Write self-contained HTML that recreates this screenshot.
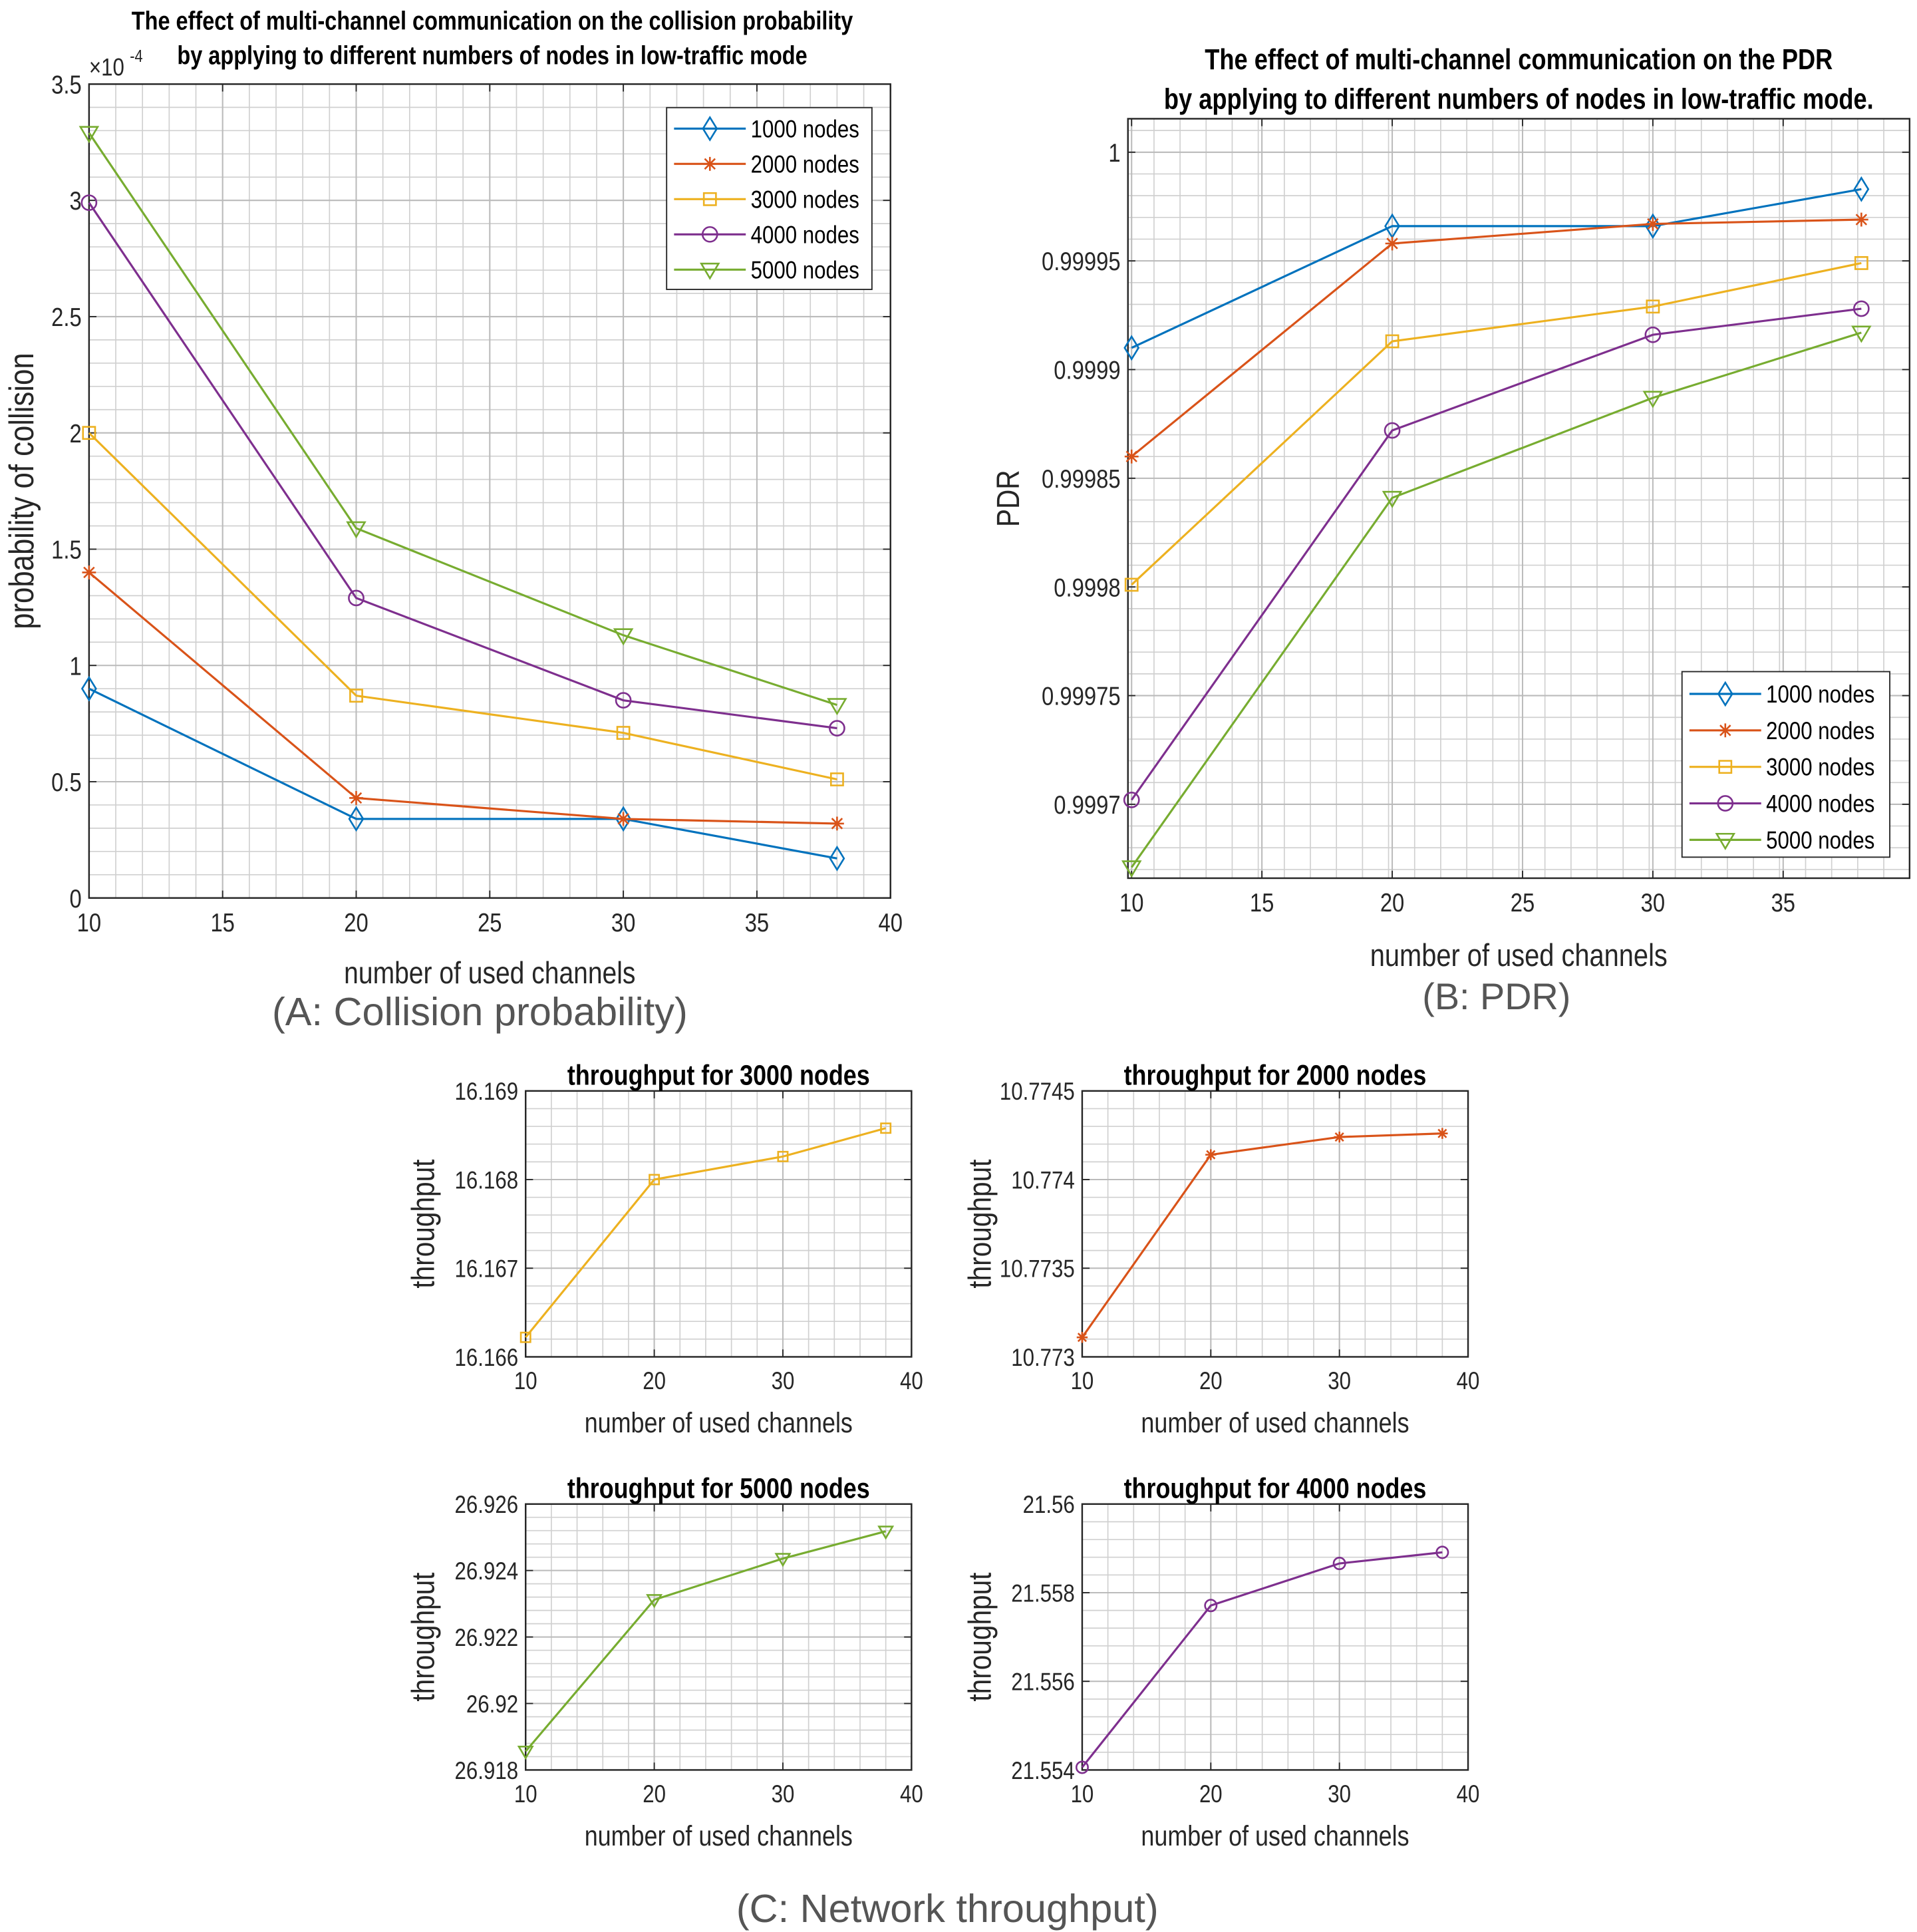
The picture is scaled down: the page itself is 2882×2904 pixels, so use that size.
<!DOCTYPE html>
<html><head><meta charset="utf-8"><style>
html,body{margin:0;padding:0;background:#fff;}
svg{display:block;}
text{font-family:"Liberation Sans",sans-serif;}
</style></head><body>
<svg id="root" width="2882" height="2904" viewBox="0 0 1550 1562" preserveAspectRatio="none" xmlns="http://www.w3.org/2000/svg"></svg>
<script>
// ---- data ----
const channels = [10, 20, 30, 38];
const seriesNames = ["1000 nodes", "2000 nodes", "3000 nodes", "4000 nodes", "5000 nodes"];
const collision1000 = [0.90, 0.34, 0.34, 0.17];
const collision2000 = [1.40, 0.43, 0.34, 0.32];
const collision3000 = [2.00, 0.87, 0.71, 0.51];
const collision4000 = [2.99, 1.29, 0.85, 0.73];
const collision5000 = [3.29, 1.59, 1.13, 0.83];
const pdr1000 = [0.999910, 0.999966, 0.999966, 0.999983];
const pdr2000 = [0.999860, 0.999958, 0.999967, 0.999969];
const pdr3000 = [0.999801, 0.999913, 0.999929, 0.999949];
const pdr4000 = [0.999702, 0.999872, 0.999916, 0.999928];
const pdr5000 = [0.999671, 0.999841, 0.999887, 0.999917];
const thr3000 = [16.16622, 16.16800, 16.16826, 16.16858];
const thr2000 = [10.77311, 10.77414, 10.77424, 10.77426];
const thr5000 = [26.91856, 26.92312, 26.92436, 26.92518];
const thr4000 = [21.55406, 21.55771, 21.55866, 21.55891];
const ticksA_y = ["0","0.5","1","1.5","2","2.5","3","3.5"];
const ticksB_y = ["0.9997","0.99975","0.9998","0.99985","0.9999","0.99995","1"];
const ticks3000 = ["16.166","16.167","16.168","16.169"];
const ticks2000 = ["10.773","10.7735","10.774","10.7745"];
const ticks5000 = ["26.918","26.92","26.922","26.924","26.926"];
const ticks4000 = ["21.554","21.556","21.558","21.56"];

const colors = ["#0072BD","#D95319","#EDB120","#7E2F8E","#77AC30"];
const markers = ["diamond","star","square","circle","tri"];
const NS = "http://www.w3.org/2000/svg";
const root = document.getElementById('root');
const SX = 0.84;
function el(tag, attrs, parent, txt){
  const e = document.createElementNS(NS, tag);
  for (const k in attrs) e.setAttribute(k, attrs[k]);
  if (txt !== undefined) e.textContent = txt;
  (parent||root).appendChild(e);
  return e;
}
function ctext(x, y, txt, attrs, parent, rot){
  const a = Object.assign({x:0, y:0, transform:`translate(${x},${y})${rot?' rotate(-90)':''} scale(${SX},1)`}, attrs);
  return el('text', a, parent, txt);
}
function marker(g, type, x, y, s, c){
  let m;
  if(type==="diamond") m = el('polygon',{points:`${x},${y-s*1.3} ${x+s*0.8},${y} ${x},${y+s*1.3} ${x-s*0.8},${y}`,fill:'none',stroke:c,'stroke-width':1.4},g);
  else if(type==="square") m = el('rect',{x:x-s*0.7,y:y-s*0.7,width:s*1.4,height:s*1.4,fill:'none',stroke:c,'stroke-width':1.4},g);
  else if(type==="circle") m = el('circle',{cx:x,cy:y,r:s*0.85,fill:'none',stroke:c,'stroke-width':1.4},g);
  else if(type==="tri") m = el('polygon',{points:`${x-s},${y-s*0.7} ${x+s},${y-s*0.7} ${x},${y+s}`,fill:'none',stroke:c,'stroke-width':1.4},g);
  else { m = el('path',{d:`M${x-s*0.8},${y}H${x+s*0.8}M${x},${y-s*0.8}V${y+s*0.8}M${x-s*0.6},${y-s*0.6}L${x+s*0.6},${y+s*0.6}M${x-s*0.6},${y+s*0.6}L${x+s*0.6},${y-s*0.6}`,stroke:c,'stroke-width':1.4,fill:'none'},g); }
  
  
}
function chart(o){
  const g = el('g',{},root);
  
  
  const X = v => o.L + (v - o.xmin)/(o.xmax - o.xmin)*(o.R - o.L);
  const Y = v => o.B - (v - o.ymin)/(o.ymax - o.ymin)*(o.B - o.T);
  for (let v = o.xmin; v <= o.xmax + 1e-9; v += o.xminor) { const x=X(v); el('line',{x1:x,x2:x,y1:o.T,y2:o.B,stroke:'#d0d0d0','stroke-width':0.9},g); }
  const nyMin = Math.round((o.ymax-o.ymin)/o.yminor);
  for (let i = 0; i <= nyMin+1; i++) { const v = o.yminorStart + i*o.yminor; if(v>o.ymax+1e-12) break; const y=Y(v); el('line',{x1:o.L,x2:o.R,y1:y,y2:y,stroke:'#d0d0d0','stroke-width':0.9},g); }
  o.xticks.forEach(v=>{const x=X(v); el('line',{x1:x,x2:x,y1:o.T,y2:o.B,stroke:'#bbbbbb','stroke-width':1.1},g);});
  o.yticks.forEach(v=>{const y=Y(v); el('line',{x1:o.L,x2:o.R,y1:y,y2:y,stroke:'#bbbbbb','stroke-width':1.1},g);});
  const bx = el('rect',{x:o.L,y:o.T,width:o.R-o.L,height:o.B-o.T,fill:'none',stroke:'#262626','stroke-width':1.3},g);
   
  o.xticks.forEach(v=>{const x=X(v);
    el('line',{x1:x,x2:x,y1:o.B,y2:o.B-6,stroke:'#262626'},g); el('line',{x1:x,x2:x,y1:o.T,y2:o.T+6,stroke:'#262626'},g);
    const t=ctext(x,o.B+o.tfs+6,String(v),{'text-anchor':'middle','font-size':o.tfs,fill:'#262626'},g);
     });
  o.yticks.forEach((v,i)=>{const y=Y(v);
    el('line',{x1:o.L,x2:o.L+6,y1:y,y2:y,stroke:'#262626'},g); el('line',{x1:o.R,x2:o.R-6,y1:y,y2:y,stroke:'#262626'},g);
    const t=ctext(o.L-6,y+o.tfs*0.36,o.ylabels[i],{'text-anchor':'end','font-size':o.tfs,fill:'#262626'},g);
     });
  o.title.forEach((s,i)=>{const t=ctext((o.L+o.R)/2+(o.titleDx||0),o.titleY+i*o.titleLH,s,{'text-anchor':'middle','font-size':o.titleFs,'font-weight':'bold',fill:'#000'},g);
     });
  const xl=ctext((o.L+o.R)/2+(o.xlDx||0),o.xlY,'number of used channels',{'text-anchor':'middle','font-size':o.lfs,fill:'#262626'},g);
   
  const yl=ctext(o.ylX,(o.T+o.B)/2,o.ylabel,{'text-anchor':'middle','font-size':o.ylfs||o.lfs,fill:'#262626'},g,true);
   
  o.series.forEach(s=>{
    const pts = channels.map((c,i)=>X(c)+','+Y(s.vals[i])).join(' ');
    const pl = el('polyline',{points:pts,fill:'none',stroke:s.color,'stroke-width':1.7},g);
     
    channels.forEach((c,i)=>marker(g,s.marker,X(c),Y(s.vals[i]),o.ms,s.color));
  });
  if (o.legend){
    const lg=o.legend;
    const r=el('rect',{x:lg.x,y:lg.y,width:lg.w,height:lg.h,fill:'#fff',stroke:'#262626','stroke-width':1},g);
     
    o.series.forEach((s,i)=>{const y=lg.y+lg.pad+i*lg.step;
      el('line',{x1:lg.x+6,x2:lg.x+64,y1:y,y2:y,stroke:s.color,'stroke-width':1.7},g);
      marker(g,s.marker,lg.x+35,y,o.ms,s.color);
      const t=ctext(lg.x+68,y+7,seriesNames[i],{'font-size':lg.fs,fill:'#000'},g);
       });
  }
  return {X,Y,g};
}
const colS = [collision1000,collision2000,collision3000,collision4000,collision5000];
const pdrS = [pdr1000,pdr2000,pdr3000,pdr4000,pdr5000];
chart({name:'collision-chart',L:72,R:720,T:68,B:726,xmin:10,xmax:40,ymin:0,ymax:3.5,xminor:1,yminor:0.1,yminorStart:0,
  xticks:[10,15,20,25,30,35,40],yticks:[0,0.5,1,1.5,2,2.5,3,3.5],ylabels:ticksA_y,tfs:21,lfs:25,ms:7,
  title:['The effect of multi-channel communication on the collision probability','by applying to different numbers of nodes in low-traffic mode'],titleY:24,titleLH:28,titleFs:20.8,titleDx:2,
  xlY:795,ylX:27,ylabel:'probability of collision',ylfs:28,
  series:colS.map((v,i)=>({vals:v,color:colors[i],marker:markers[i]})),
  legend:{x:539,y:87,w:166,h:147,pad:17,step:28.5,fs:20}});
const ex=ctext(72,61,'×10',{'font-size':20,fill:'#262626'},root);
 
ctext(105,50,'-4',{'font-size':14,fill:'#262626'},root);
chart({name:'pdr-chart',L:912,R:1544,T:96,B:710,xmin:9.86,xmax:39.85,ymin:0.999666,ymax:1.0000154,xminor:1,yminor:0.00001,yminorStart:0.99967,
  xticks:[10,15,20,25,30,35],yticks:[0.9997,0.99975,0.9998,0.99985,0.9999,0.99995,1],ylabels:ticksB_y,tfs:21,lfs:25.5,ms:7,
  title:['The effect of multi-channel communication on the PDR','by applying to different numbers of nodes in low-traffic mode.'],titleY:56,titleLH:32,titleFs:23.2,titleDx:0,
  xlY:781,ylX:824,ylabel:'PDR',ylfs:26,
  series:pdrS.map((v,i)=>({vals:v,color:colors[i],marker:markers[i]})),
  legend:{x:1360,y:543,w:168,h:150,pad:18,step:29.5,fs:20}});
function small(name,L,T,ymin,ymax,yticks,labels,vals,ci,title){
  chart({name:name,L:L,R:L+312,T:T,B:T+215,xmin:10,xmax:40,ymin:ymin,ymax:ymax,xminor:2,yminor:(yticks[1]-yticks[0])/5,yminorStart:ymin,
    xticks:[10,20,30,40],yticks:yticks,ylabels:labels,tfs:20,lfs:23,ms:5.5,
    title:[title],titleY:T-5,titleLH:0,titleFs:23,xlY:T+276,ylX:L-74,ylabel:'throughput',ylfs:26,
    series:[{vals:vals,color:colors[ci],marker:markers[ci]}]});
}
small('throughput-3000-chart',425,882,16.166,16.169,[16.166,16.167,16.168,16.169],ticks3000,thr3000,2,'throughput for 3000 nodes');
small('throughput-2000-chart',875,882,10.773,10.7745,[10.773,10.7735,10.774,10.7745],ticks2000,thr2000,1,'throughput for 2000 nodes');
small('throughput-5000-chart',425,1216,26.918,26.926,[26.918,26.92,26.922,26.924,26.926],ticks5000,thr5000,4,'throughput for 5000 nodes');
small('throughput-4000-chart',875,1216,21.554,21.56,[21.554,21.556,21.558,21.56],ticks4000,thr4000,3,'throughput for 4000 nodes');
[['(A: Collision probability)',388,829,'caption-a',32],['(B: PDR)',1210,816,'caption-b',30],['(C: Network throughput)',766,1554,'caption-c',32]].forEach(c=>{
  const t=el('text',{x:c[1],y:c[2],'text-anchor':'middle','font-size':c[4],fill:'#555'},root,c[0]);
   });
</script>
</body></html>
